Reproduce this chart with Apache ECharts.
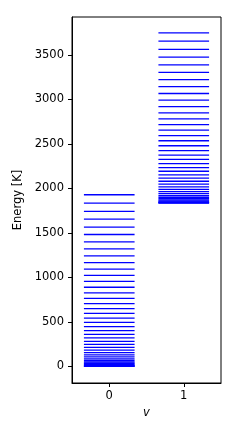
<!DOCTYPE html>
<html>
<head>
<meta charset="utf-8">
<script src="https://cdn.jsdelivr.net/npm/echarts@6/dist/echarts.min.js"></script>
<style>html,body{margin:0;padding:0;background:#fff}#c{width:245px;height:436px}</style>
</head>
<body>
<div id="c"></div>
<script>
var vLabels = ['0', '1'];
var yTicks = [0, 500, 1000, 1500, 2000, 2500, 3000, 3500];
var levelsV0 = [0, 2, 7, 14, 24, 35, 49, 66, 85, 106, 129, 155, 183, 214, 247, 282, 320, 360, 402, 447, 494, 543, 595, 649, 706, 764, 826, 889, 955, 1023, 1094, 1167, 1242, 1320, 1399, 1482, 1566, 1654, 1743, 1835, 1929];
var levelsV1 = [1836, 1838, 1843, 1850, 1859, 1871, 1885, 1901, 1920, 1941, 1964, 1990, 2018, 2048, 2081, 2116, 2153, 2193, 2235, 2279, 2326, 2375, 2426, 2480, 2536, 2594, 2655, 2718, 2783, 2850, 2920, 2993, 3067, 3144, 3224, 3305, 3389, 3475, 3564, 3655, 3748];

var data = [];
levelsV0.forEach(function (e) { data.push([0, e]); });
levelsV1.forEach(function (e) { data.push([1, e]); });

var font = 'DejaVu Sans';
var chart = echarts.init(document.getElementById('c'), null, {renderer: 'canvas'});
chart.setOption({
  animation: false,
  backgroundColor: '#fff',
  grid: {left: 72, right: 24, top: 17, bottom: 53, show: true, borderColor: '#000', borderWidth: 1, backgroundColor: 'transparent'},
  xAxis: {
    type: 'category',
    data: vLabels,
    name: 'v',
    nameLocation: 'middle',
    nameGap: 24,
    nameTextStyle: {fontFamily: font, fontSize: 11.5, fontStyle: 'italic', color: '#000'},
    axisLine: {show: true, onZero: false, lineStyle: {color: '#000', width: 1}},
    axisTick: {show: true, alignWithLabel: true, length: 4, lineStyle: {color: '#000'}},
    axisLabel: {fontFamily: font, fontSize: 11.5, color: '#000', margin: 7},
    splitLine: {show: false}
  },
  yAxis: {
    type: 'value',
    min: -187,
    max: 3927,
    name: 'Energy [K]',
    nameLocation: 'middle',
    nameGap: 39,
    nameRotate: 90,
    nameTextStyle: {fontFamily: font, fontSize: 11.5, color: '#000'},
    axisLine: {show: true, onZero: false, lineStyle: {color: '#000', width: 1}},
    axisTick: {show: true, length: 4, lineStyle: {color: '#000'}, customValues: yTicks},
    axisLabel: {fontFamily: font, fontSize: 11.5, color: '#000', margin: 8, customValues: yTicks,
      formatter: function (v) { return String(v); }},
    splitLine: {show: false}
  },
  series: [{
    type: 'custom',
    data: data,
    renderItem: function (params, api) {
      var c = api.coord([api.value(0), api.value(1)]);
      var w = api.size([1, 0])[0];
      return {
        type: 'line',
        shape: {x1: c[0] - 0.34 * w, y1: c[1], x2: c[0] + 0.34 * w, y2: c[1]},
        style: {stroke: '#0000ff', lineWidth: 1.3}
      };
    }
  }]
});
</script>
</body>
</html>
